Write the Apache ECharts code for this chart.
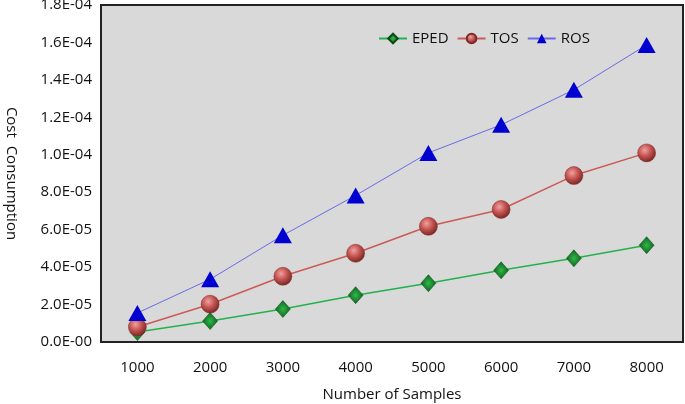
<!DOCTYPE html>
<html>
<head>
<meta charset="utf-8">
<script src="https://cdn.jsdelivr.net/npm/echarts@6/dist/echarts.min.js"></script>
<style>html,body{margin:0;padding:0;background:#fff}#c{width:685px;height:404px}</style>
</head>
<body>
<div id="c"></div>
<script>
const categories = ['1000','2000','3000','4000','5000','6000','7000','8000'];
const eped = [0.53e-5, 1.12e-5, 1.76e-5, 2.50e-5, 3.14e-5, 3.83e-5, 4.47e-5, 5.17e-5];
const tos  = [0.80e-5, 2.02e-5, 3.51e-5, 4.74e-5, 6.18e-5, 7.08e-5, 8.89e-5, 1.01e-4];
const ros  = [1.55e-5, 3.35e-5, 5.70e-5, 7.83e-5, 1.01e-4, 1.16e-4, 1.347e-4, 1.587e-4];

const chart = echarts.init(document.getElementById('c'));
const font = 'Open Sans';
function fmt(v){
  if (v === 0) return '0.0E-00';
  const e = Math.floor(Math.log10(Math.abs(v)) + 1e-9);
  const m = v / Math.pow(10, e);
  const es = (e < 0 ? '-' : '+') + String(Math.abs(e)).padStart(2, '0');
  return m.toFixed(1) + 'E' + es;
}
const greenFill = {type:'radial', x:0.5, y:0.5, r:0.6, colorStops:[{offset:0,color:'#2fb84a'},{offset:1,color:'#0a5016'}]};
const redFill = {type:'radial', x:0.4, y:0.35, r:0.7, colorStops:[{offset:0,color:'#f2a0a0'},{offset:0.5,color:'#c0504d'},{offset:1,color:'#6e2220'}]};
chart.setOption({
  animation:false,
  backgroundColor:'#fff',
  textStyle:{fontFamily:font},
  grid:{left:101, right:2, top:5, bottom:62, containLabel:false, outerBoundsMode:'none', show:true, backgroundColor:'#d9d9d9', borderColor:'#222', borderWidth:2},
  legend:{
    top:26, left:373, itemGap:8, itemWidth:28, itemHeight:12,
    textStyle:{fontFamily:font, fontSize:15, color:'#111'},
    data:['EPED','TOS','ROS']
  },
  xAxis:{
    type:'category', data:categories, boundaryGap:true,
    axisLine:{show:true, lineStyle:{color:'#222', width:2}},
    axisTick:{show:false},
    axisLabel:{fontFamily:font, fontSize:15, color:'#111', margin:18},
    name:'Number of Samples', nameLocation:'middle', nameGap:45,
    nameTextStyle:{fontFamily:font, fontSize:15, color:'#111'}
  },
  yAxis:{
    type:'value', min:0, max:1.8e-4, interval:2e-5,
    splitLine:{show:false},
    axisLine:{show:true, lineStyle:{color:'#222', width:2}},
    axisTick:{show:false},
    axisLabel:{fontFamily:font, fontSize:15, color:'#111', margin:9, formatter:fmt},
    name:'Cost  Consumption', nameLocation:'middle', nameGap:82, nameRotate:-90,
    nameTextStyle:{fontFamily:font, fontSize:15, color:'#111'}
  },
  series:[
    {name:'EPED', type:'line', data:eped, symbol:'diamond', symbolSize:[15,17],
     lineStyle:{color:'#22b24c', width:1.5}, itemStyle:{color:greenFill, borderColor:'#0a4a14', borderWidth:0.5}, z:3},
    {name:'TOS', type:'line', data:tos, symbol:'circle', symbolSize:18,
     lineStyle:{color:'#cc5a56', width:1.5}, itemStyle:{color:redFill, borderColor:'#7a2a28', borderWidth:0.5}, z:4},
    {name:'ROS', type:'line', data:ros, symbol:'triangle', symbolSize:[18,16],
     lineStyle:{color:'#6a6ae8', width:1}, itemStyle:{color:'#0000d0'}, z:5}
  ]
});
</script>
</body>
</html>
